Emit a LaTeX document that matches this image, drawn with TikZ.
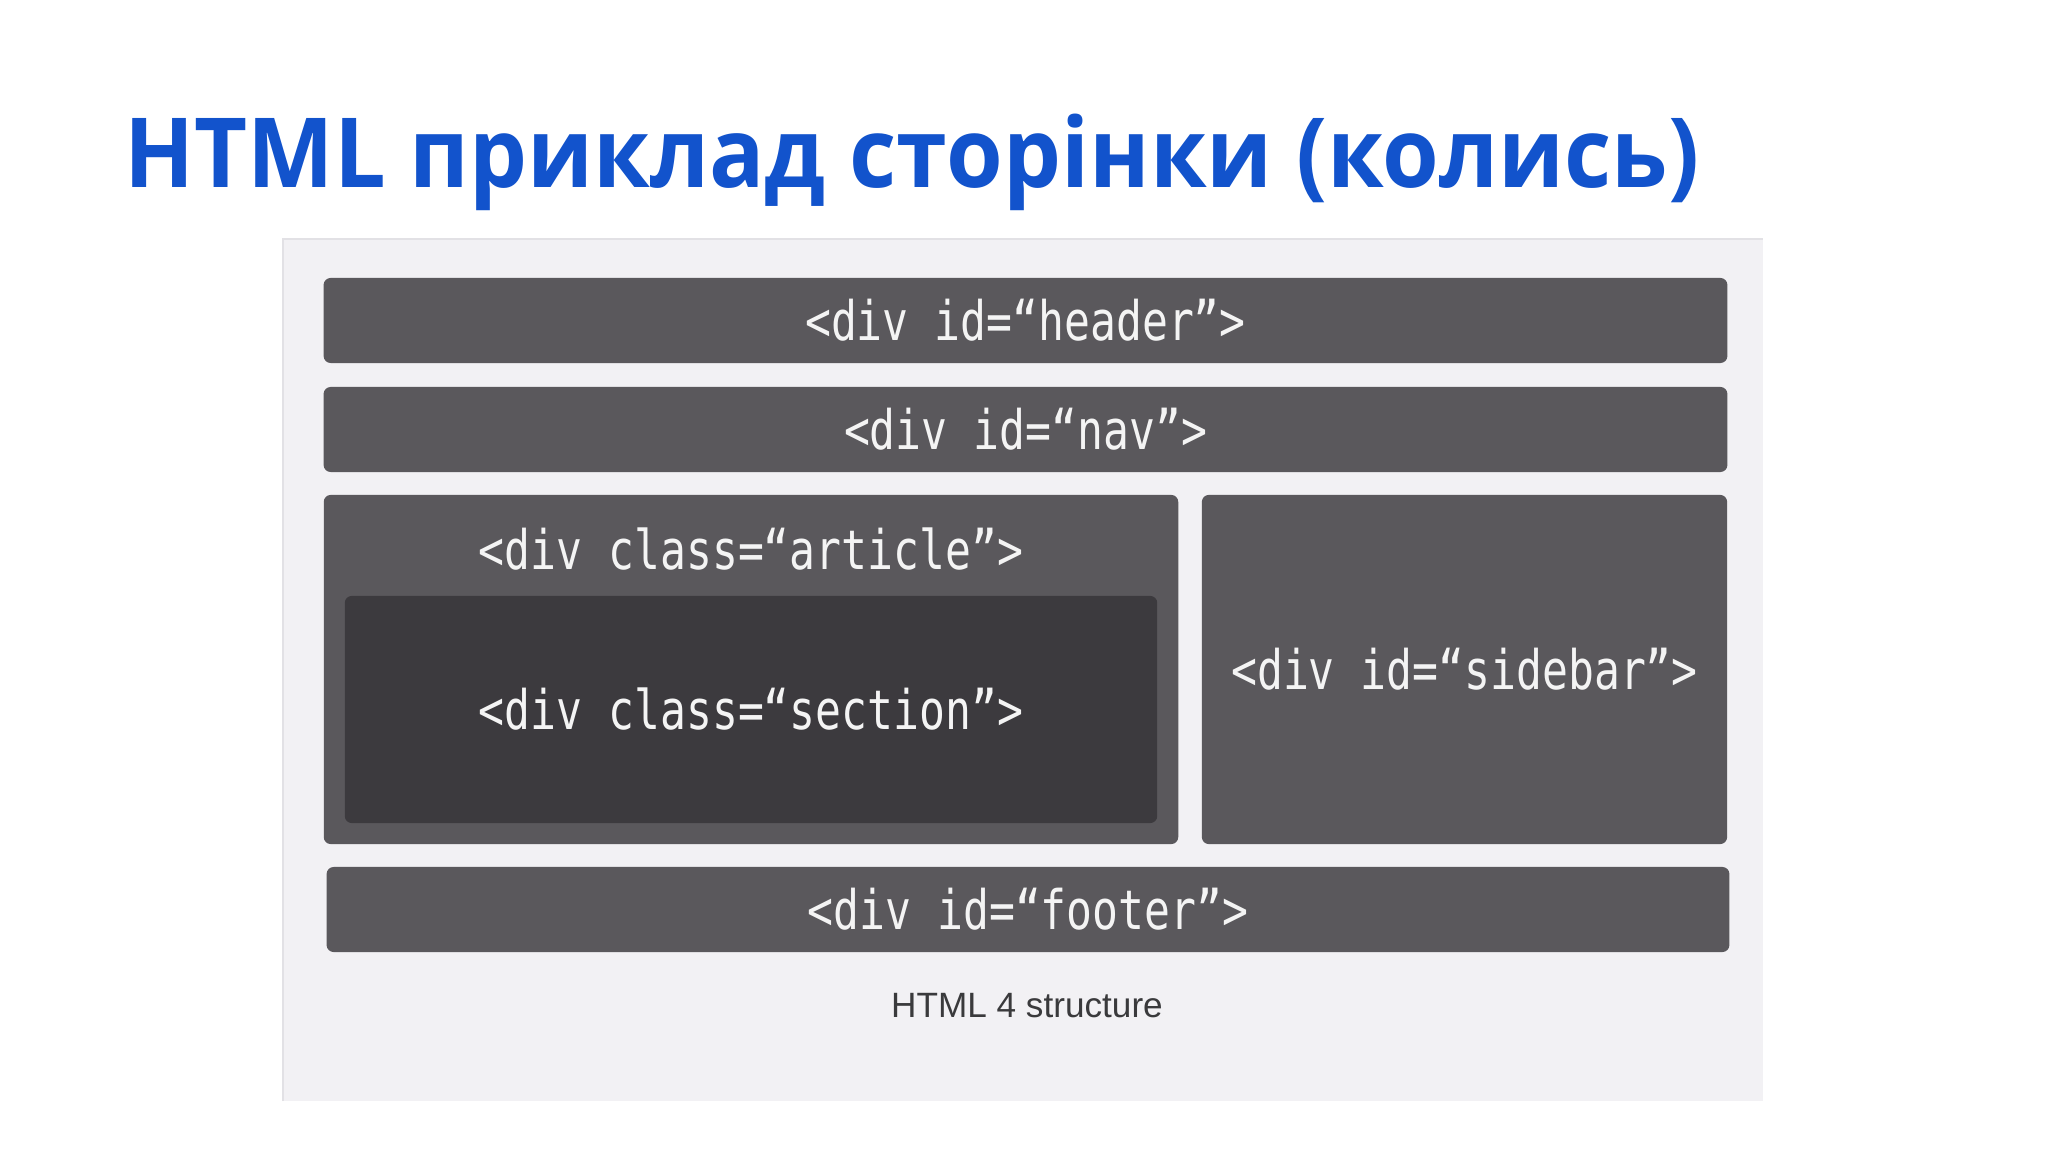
\documentclass[tikz,border=0pt]{standalone}
\usepackage{fontspec}
\usepackage{graphicx}
\setmainfont{Liberation Sans}
\setmonofont{DejaVu Sans Mono}
\newfontfamily\titlefont{Open Sans}

\definecolor{titleblue}{HTML}{1253CC}
\definecolor{panelgray}{HTML}{F2F1F4}
\definecolor{panelline}{HTML}{E2E1E5}
\definecolor{divgray}{HTML}{5A585C}
\definecolor{secgray}{HTML}{3C3A3E}
\definecolor{divtext}{HTML}{F4F4F4}
\definecolor{capgray}{HTML}{3A3A3C}

\newcommand{\tagtext}[1]{\scalebox{0.79}[1]{\fontsize{15.5}{18}\selectfont\ttfamily #1}}

\tikzset{
  divbox/.style={fill=divgray, rounded corners=2pt, inner sep=0pt, text=divtext},
  secbox/.style={divbox, fill=secgray},
}

\begin{document}
\begin{tikzpicture}[x=0.01cm, y=-0.01cm]
    \useasboundingbox[fill=white] (0,0) rectangle (2048,1152);

    % title
    \node[anchor=base west, inner sep=0pt, text=titleblue, font=\titlefont\bfseries\fontsize{27.5}{30}\selectfont] (title) at (124,188) {\scalebox{0.948}[1]{HTML приклад сторінки (колись)}};

    % grey panel
    \fill[panelgray] (283,239) rectangle (1763,1101);
    \draw[panelline] (283,1101) -- (283,239) -- (1763,239);

    \node[divbox, minimum width=14.03cm, minimum height=0.85cm] (header) at (1025.5,320.5) {\tagtext{<div id=“header”>}};
    \node[divbox, minimum width=14.03cm, minimum height=0.85cm] (nav) at (1025.5,429.5) {\tagtext{<div id=“nav”>}};

    \node[divbox, minimum width=8.54cm, minimum height=3.49cm] (article) at (751,669.5) {};
    \node[text=divtext, inner sep=0pt] (articlelbl) at (751,549) {\tagtext{<div class=“article”>}};
    \node[secbox, minimum width=8.12cm, minimum height=2.27cm] (section) at (751,709.5) {\tagtext{<div class=“section”>}};

    \node[divbox, minimum width=5.25cm, minimum height=3.49cm] (sidebar) at (1464.5,669.5) {\tagtext{<div id=“sidebar”>}};

    \node[divbox, minimum width=14.02cm, minimum height=0.85cm] (footer) at (1028,909.5) {\tagtext{<div id=“footer”>}};

    \node[text=capgray, font=\fontsize{10}{12}\selectfont, inner sep=0pt] (caption) at (1027,1006) {HTML 4 structure};
\end{tikzpicture}
\end{document}
